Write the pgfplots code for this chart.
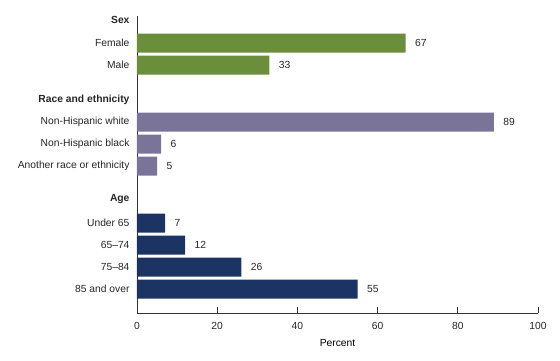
\documentclass[border=0pt]{standalone}
\usepackage{fontspec}
\setmainfont{Liberation Sans}
\usepackage{pgfplots}
\pgfplotsset{compat=1.18}
\definecolor{cgreen}{RGB}{107,142,58}
\definecolor{cpurple}{RGB}{123,116,153}
\definecolor{cnavy}{RGB}{28,52,100}
\begin{document}
\begin{tikzpicture}
\begin{axis}[
  scale only axis,
  width=401pt, height=297pt,
  xmin=0, xmax=100, ymin=16, ymax=313,
  y dir=reverse,
  axis lines*=left,
  axis line style={line width=0.9pt, color=black!80},
  xbar, bar width=19, bar shift=0pt,
  xtick={0,20,40,60,80,100},
  tick align=inside,
  major tick length=6pt,
  xtick style={line width=0.9pt, color=black!80},
  ytick={20,43,65,100,122,144,166,199,223,245,267,289},
  yticklabels={\textbf{Sex},Female,Male,\textbf{Race and ethnicity},Non-Hispanic white,Non-Hispanic black,Another race or ethnicity,\textbf{Age},Under 65,65--74,75--84,85 and over},
  ytick style={draw=none},
  yticklabel style={xshift=-4pt},
  xticklabel style={yshift=-6pt},
  tick label style={font=\fontsize{10.3}{12}\selectfont, color=black!85},
  /pgf/number format/assume math mode=true,
  xlabel={Percent},
  xlabel style={font=\fontsize{10.3}{12}\selectfont, yshift=-3pt},
  nodes near coords,
  nodes near coords align={horizontal},
  every node near coord/.append style={font=\fontsize{10.3}{12}\selectfont, anchor=west, xshift=6pt, color=black!85},
  clip=false,
]
\addplot[fill=cgreen, draw=none] coordinates {(67,43) (33,65)};
\addplot[fill=cpurple, draw=none] coordinates {(89,122) (6,144) (5,166)};
\addplot[fill=cnavy, draw=none] coordinates {(7,223) (12,245) (26,267) (55,289)};
\end{axis}
\path (current axis.south west) ++(-137pt,-47pt) coordinate (bl);
\path (current axis.north east) ++(22pt,16pt) coordinate (tr);
\path (bl) rectangle (tr);
\end{tikzpicture}
\end{document}
